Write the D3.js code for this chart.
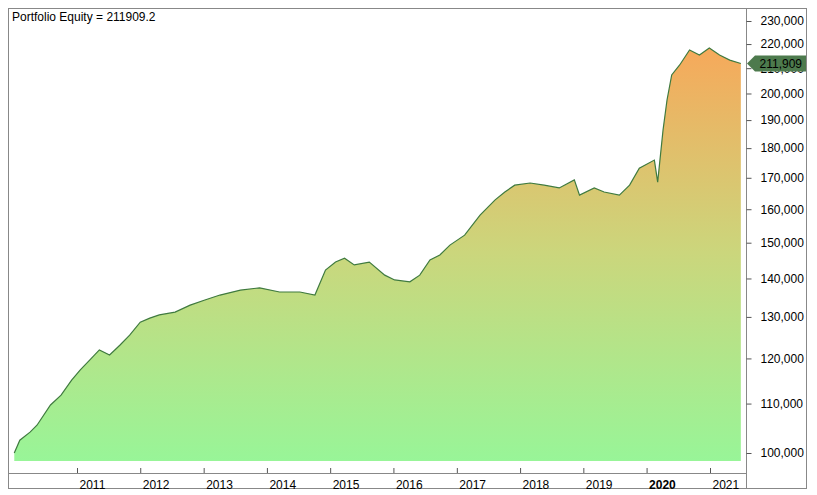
<!DOCTYPE html>
<html>
<head>
<meta charset="utf-8">
<script src="https://cdn.jsdelivr.net/npm/d3@7"></script>
<style>
  body { margin: 0; background: #fff; }
  text { font-family: "Liberation Sans", Arial, sans-serif; }
</style>
</head>
<body>
<div id="container"></div>
<script>
/* DATA */
const dates = ["2010-01-04","2010-02-05","2010-04-05","2010-05-15","2010-08-01","2010-10-01","2010-12-01",
  "2011-01-20","2011-03-15","2011-05-10","2011-07-08","2011-09-05","2011-11-01",
  "2012-01-01","2012-02-25","2012-04-20","2012-07-20","2012-10-15",
  "2013-01-08","2013-04-05","2013-08-01","2013-11-20","2014-03-15","2014-07-10","2014-10-05",
  "2014-12-05","2015-02-01","2015-03-25","2015-05-20","2015-08-15","2015-11-12",
  "2016-01-08","2016-04-05","2016-06-01","2016-07-30","2016-09-25","2016-11-22",
  "2017-02-15","2017-05-15","2017-08-10","2017-10-05","2017-12-01",
  "2018-02-28","2018-05-20","2018-08-15","2018-11-10","2018-12-10",
  "2019-03-05","2019-05-01","2019-07-28","2019-09-25","2019-11-20",
  "2020-02-15","2020-03-05","2020-04-05","2020-04-28","2020-05-25",
  "2020-07-10","2020-09-05","2020-11-01","2020-12-28","2021-02-25","2021-04-25","2021-06-28"];
const equity = [100000,102500,104100,105500,109700,111800,115100,
  117400,119600,122000,120800,123100,125500,
  128700,129700,130500,131200,133000,
  134300,135600,136900,137500,136400,136400,135600,
  142300,144500,145600,143700,144500,140900,
  139600,139100,140900,145100,146500,149300,
  152200,158200,162900,165400,167600,
  168300,167600,166700,169300,164400,
  166700,165400,164400,167600,173200,
  175900,168600,186400,197500,207300,
  211300,217500,215400,218300,215400,213300,211909];
const yTicks = [100000,110000,120000,130000,140000,150000,160000,170000,180000,190000,200000,210000,220000,230000];
const lastValue = 211909.2;

/* LAYOUT */
const width = 817, height = 495;
const plotLeft = 8, plotRight = 746, plotTop = 8, axisY = 473, fillBase = 461;

const data = dates.map((d, i) => ({ date: new Date(d), value: equity[i] }));

const svg = d3.select("#container").append("svg")
  .attr("width", width).attr("height", height);

/* SCALES */
const xScale = d3.scaleTime()
  .domain([new Date("2011-01-01"), new Date("2021-01-01")])
  .range([77, 710]);
const yScale = d3.scaleLog()
  .domain([100000, 230000])
  .range([453, 21]);

// gradient fill
const grad = svg.append("defs").append("linearGradient")
  .attr("id", "eqfill").attr("gradientUnits", "userSpaceOnUse")
  .attr("x1", 0).attr("x2", 0).attr("y1", 44).attr("y2", fillBase);
grad.append("stop").attr("offset", 0).attr("stop-color", "#f7a85a");
grad.append("stop").attr("offset", 0.5).attr("stop-color", "#cbd67c");
grad.append("stop").attr("offset", 1).attr("stop-color", "#98f598");

// frame
svg.append("rect").attr("x", 8.5).attr("y", 8.5).attr("width", 798).attr("height", 480)
  .attr("fill", "none").attr("stroke", "#888");

const area = d3.area().x(d => xScale(d.date)).y0(fillBase).y1(d => yScale(d.value));
const line = d3.line().x(d => xScale(d.date)).y(d => yScale(d.value));

svg.append("path").datum(data).attr("d", area).attr("fill", "url(#eqfill)");
svg.append("path").datum(data).attr("d", line)
  .attr("fill", "none").attr("stroke", "#3f7a3f").attr("stroke-width", 1.2);

// right axis
svg.append("line").attr("x1", plotRight + 0.5).attr("x2", plotRight + 0.5)
  .attr("y1", plotTop).attr("y2", 488).attr("stroke", "#888");
const yAxis = svg.append("g").attr("transform", `translate(${plotRight + 0.5},0)`)
  .call(d3.axisRight(yScale).tickValues(yTicks).tickSize(5).tickPadding(9)
    .tickFormat(d3.format(",")));
yAxis.select(".domain").remove();
yAxis.selectAll("line").attr("stroke", "#555");
yAxis.selectAll("text").attr("font-size", 12).attr("fill", "#000")
  .attr("font-family", "Liberation Sans, Arial, sans-serif");

// bottom axis
svg.append("line").attr("x1", plotLeft).attr("x2", plotRight)
  .attr("y1", axisY + 0.5).attr("y2", axisY + 0.5).attr("stroke", "#888");
const years = d3.range(2011, 2022).map(y => new Date(y, 0, 1));
const xAxis = svg.append("g").attr("transform", `translate(0,${axisY})`)
  .call(d3.axisTop(xScale).tickValues(years).tickSize(5).tickFormat(d3.timeFormat("%Y")));
xAxis.select(".domain").remove();
xAxis.selectAll("line").attr("stroke", "#555");
xAxis.selectAll("text").attr("font-size", 12).attr("fill", "#000")
  .attr("text-anchor", "start").attr("x", 2).attr("y", 16)
  .attr("font-family", "Liberation Sans, Arial, sans-serif")
  .attr("font-weight", d => d.getFullYear() === 2020 ? "bold" : "normal");

// last value marker
const ly = yScale(lastValue);
svg.append("path")
  .attr("d", `M${plotRight + 1},${ly} L${plotRight + 9},${ly - 8} L806,${ly - 8} L806,${ly + 8} L${plotRight + 9},${ly + 8} Z`)
  .attr("fill", "#4d7a4d");
svg.append("text").attr("x", 802).attr("y", ly + 4.5).attr("text-anchor", "end")
  .attr("font-size", 12).attr("fill", "#000").text(d3.format(",")(Math.round(lastValue)));

// title
svg.append("text").attr("x", 12).attr("y", 21).attr("font-size", 12).attr("fill", "#000")
  .text("Portfolio Equity = " + lastValue);
</script>
</body>
</html>
